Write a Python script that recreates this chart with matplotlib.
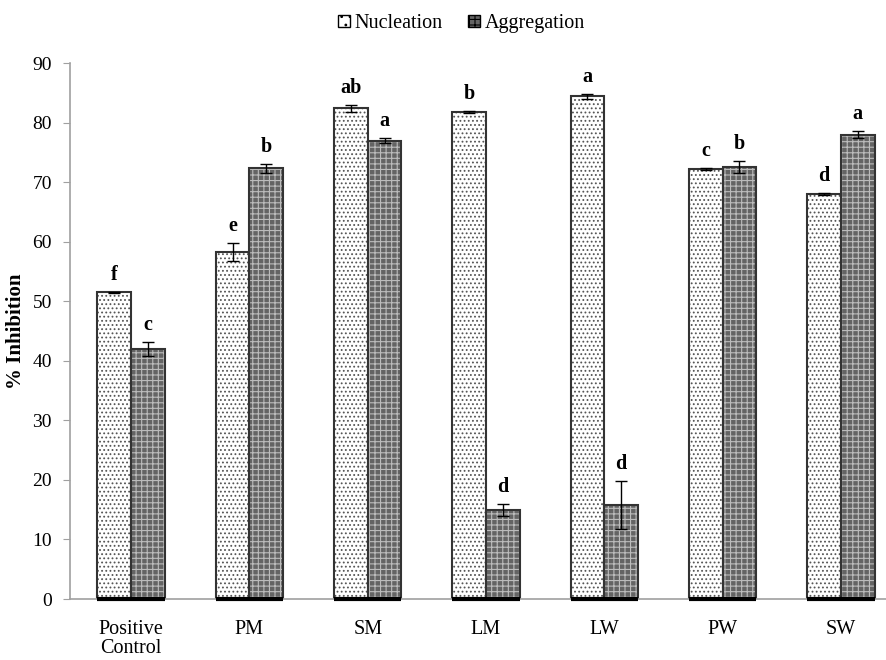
import numpy as np
import matplotlib.pyplot as plt
from matplotlib.patches import Patch

plt.rcParams['font.family'] = ['Liberation Serif', 'DejaVu Serif']
plt.rcParams['hatch.linewidth'] = 0.8

# Daten
kategorien = ['Positive\nControl', 'PM', 'SM', 'LM', 'LW', 'PW', 'SW']
nukleation = [51.5, 58.3, 82.4, 81.8, 84.4, 72.2, 68.0]
nukleation_fehler = [0.1, 1.5, 0.6, 0.1, 0.4, 0.2, 0.2]
aggregation = [42.0, 72.3, 77.0, 15.0, 15.8, 72.5, 78.0]
aggregation_fehler = [1.2, 0.8, 0.5, 1.0, 4.0, 1.0, 0.6]
buchst_nuk = ['f', 'e', 'ab', 'b', 'a', 'c', 'd']
buchst_agg = ['c', 'b', 'a', 'd', 'd', 'b', 'a']

x = np.arange(len(kategorien))
breite = 0.285

fig = plt.figure(figsize=(8.87, 6.6), dpi=100)
ax = fig.add_axes([0.079, 0.0924, 0.921, 0.812])

# Nukleation: weiss mit Punkten
ax.bar(x - breite / 2, nukleation, breite, color='white', edgecolor='#555555',
       hatch='....', linewidth=0)
ax.bar(x - breite / 2, nukleation, breite, color='none', edgecolor='#333333', linewidth=1.5)
# Aggregation: grau mit hellem Raster
ax.bar(x + breite / 2, aggregation, breite, color='#646464', edgecolor='#bcbcbc',
       hatch='+++', linewidth=0)
ax.bar(x + breite / 2, aggregation, breite, color='none', edgecolor='#333333', linewidth=1.5)

# dicke Grundlinie unter den Balken
for xi in x:
    ax.plot([xi - breite, xi + breite], [0, 0], color='black', linewidth=3,
            solid_capstyle='butt', zorder=5, clip_on=False)

ax.errorbar(x - breite / 2, nukleation, yerr=nukleation_fehler, fmt='none',
            ecolor='black', elinewidth=1, capsize=4, capthick=1)
ax.errorbar(x + breite / 2, aggregation, yerr=aggregation_fehler, fmt='none',
            ecolor='black', elinewidth=1, capsize=4, capthick=1)

for xi, w, e, t in zip(x - breite / 2, nukleation, nukleation_fehler, buchst_nuk):
    ax.annotate(t, (xi, w + e), xytext=(0, 5), textcoords='offset points',
                ha='center', va='bottom', fontsize=14.5, fontweight='bold')
for xi, w, e, t in zip(x + breite / 2, aggregation, aggregation_fehler, buchst_agg):
    ax.annotate(t, (xi, w + e), xytext=(0, 5), textcoords='offset points',
                ha='center', va='bottom', fontsize=14.5, fontweight='bold')

ax.set_xlim(-0.516, 6.39)
ax.set_ylim(0, 90)
ax.set_yticks(np.arange(0, 91, 10))
ax.set_xticks(x)
ax.set_xticklabels(kategorien, fontsize=14.5, linespacing=1.0)
ax.tick_params(axis='x', length=0, pad=15)
ax.tick_params(axis='y', direction='out', length=5, color='#a0a0a0', labelsize=14, pad=8)
for s in ['top', 'right']:
    ax.spines[s].set_visible(False)
for s in ['left', 'bottom']:
    ax.spines[s].set_color('#a0a0a0')
    ax.spines[s].set_linewidth(1.2)

ax.set_ylabel('% Inhibition', fontsize=15, fontweight='bold')
ax.yaxis.set_label_coords(-0.054, 0.5)

handles = [Patch(facecolor='white', edgecolor='black', hatch='..', label='Nucleation'),
           Patch(facecolor='#646464', edgecolor='black', hatch='+++', label='Aggregation')]
fig.legend(handles=handles, loc='upper center', bbox_to_anchor=(0.52, 1.006), ncol=2,
           frameon=False, fontsize=14.5, handlelength=0.6, handleheight=0.6,
           handletextpad=0.2, columnspacing=1.3)

fig.savefig('out.png', dpi=100)
